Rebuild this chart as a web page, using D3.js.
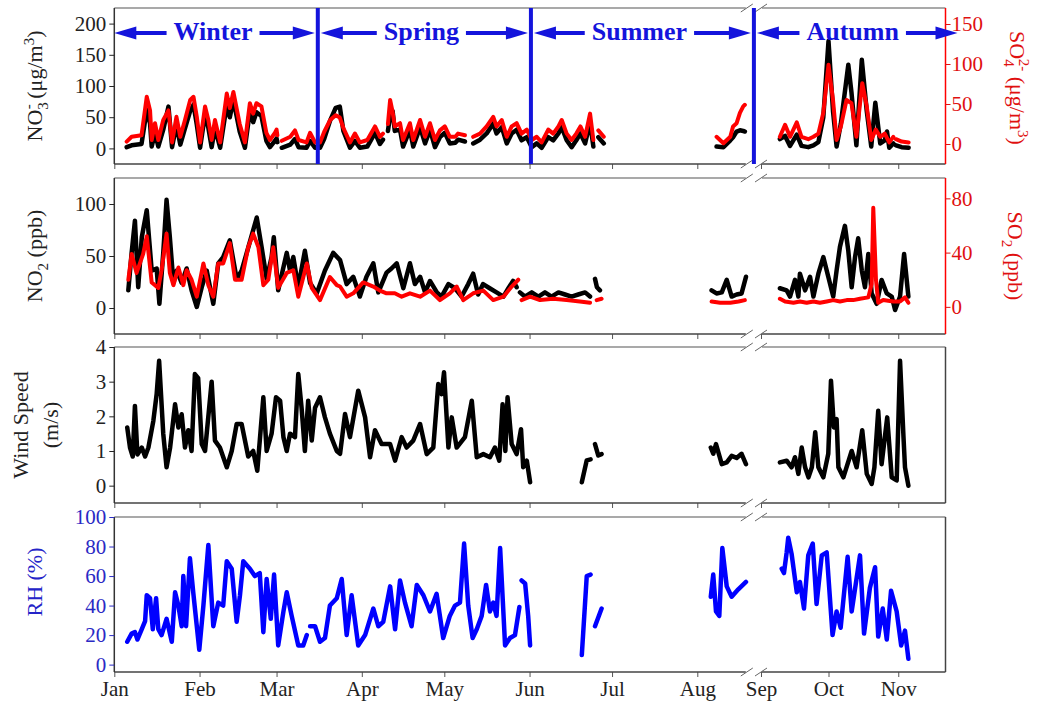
<!DOCTYPE html>
<html>
<head>
<meta charset="utf-8">
<script src="https://cdn.jsdelivr.net/npm/d3@7"></script>
<style>
  body { margin: 0; background: #fff; }
  svg text { font-family: "Liberation Serif", "Times New Roman", serif; }
</style>
</head>
<body>
<svg id="chart" width="1037" height="706"></svg>
<script>
// Each record: [day of year (0 = 1 Jan), value]; a null value marks a gap in the record.

// Particulate nitrate NO3- (µg/m3), left axis of the top panel
const no3 = [
  [4.5,2],[6.3,5],[9.9,7],[11.8,62],[13,40],[13.6,3],[14.8,25],[16,3],[17.8,30],[19.7,67],[21,2],
  [22.6,38],[24,6],[25.7,32],[27.6,60],[28.8,70],[30,38],[31.2,1],[33,55],[34.2,33],[35.4,2],
  [36.6,33],[38.5,1],[40.9,70],[42,50],[43.3,78],[45.6,27],[47.5,1],[49.3,60],[50.5,42],[51.7,58],
  [53.5,52],[55.3,12],[56.6,2],[58.4,12],[59,16],[59.3,10],[60,null],[60.9,1],[64,6],[65.7,15],
  [67,2],[69.9,1],[71.2,12],[73,1],[74.8,1],[76.3,15],[78.5,45],[80.5,65],[82,67],[83.3,28],
  [85.7,1],[87.5,12],[89.3,1],[92,3],[94.8,25],[96.6,7],[97.7,14],[98.5,null],[99.5,28],[100.3,52],
  [101.2,60],[102,28],[103.9,30],[105,3],[107.5,30],[108.7,3],[111.2,34],[113,8],[114.8,30],
  [116.6,2],[118.4,18],[120.2,25],[122,8],[124,9],[125,14],[127.5,11],[129,null],[130.5,8],[133,14],
  [135.4,24],[137.8,40],[139,24],[140.9,34],[142.7,8],[144.5,24],[146.3,30],[148.1,13],[150,18],
  [151.8,2],[153.6,8],[155.4,1],[157.8,18],[159.6,13],[161.5,24],[162.7,34],[164.5,13],[166.3,2],
  [168,13],[169.5,24],[171.2,8],[173,42],[174.2,3],[175,null],[176,18],[178,8],[200,null],
  [219,3],[221.5,2],[224,13],[225,18],[226.3,27],[227.5,29],[228.7,28],[229.3,27],[240,null],
  [251.4,15],[253.7,20],[255.9,4],[258.9,22],[261,4],[264,2],[266.3,5],[268.5,10],[270.7,50],
  [273,172],[275,60],[276.6,3],[278.5,40],[281.8,134],[283.2,90],[285.4,5],[287.8,142],[290,60],
  [292,3],[293.8,73],[296,8],[298,13],[299,27],[300,1],[301.8,8],[302.4,null],[303,5],[305.5,2],[308.6,1]
];

// Particulate sulfate SO4 2- (µg/m3), right axis of the top panel
const so4 = [
  [4.5,3],[6.3,9],[9.9,11],[11.8,59],[13,42],[13.6,5],[14.8,26],[16,5],[17.8,30],[19.7,42],[21,2],
  [22.6,34],[24,9],[25.7,30],[27.6,55],[28.8,59],[30,34],[31.2,2],[33,47],[34.2,30],[35.4,5],
  [36.6,30],[38.5,2],[40.9,63],[42,45],[43.3,65],[45.6,25],[47.5,2],[49.3,51],[50.5,38],[51.7,51],
  [53.5,47],[55.3,14],[56.6,5],[58.4,14],[59,18],[59.3,11],[60,null],[60.9,4],[64,9],[65.7,17],
  [67,5],[69.9,2],[71.2,14],[73,2],[74.8,2],[76.3,15],[78.5,30],[80.5,36],[82,33],[83.3,20],
  [85.7,2],[87.5,13],[89.3,2],[92,5],[94.8,22],[96.6,9],[97.7,13],[98.5,null],[99.5,25],[100.3,55],
  [101.2,40],[102,22],[103.9,26],[105,5],[107.5,26],[108.7,5],[111.2,30],[113,9],[114.8,26],
  [116.6,5],[118.4,17],[120.2,22],[122,9],[124,9],[125,13],[127.5,11],[129,null],[130.5,9],[133,13],
  [135.4,22],[137.8,34],[139,22],[140.9,30],[142.7,9],[144.5,22],[146.3,26],[148.1,13],[150,18],
  [151.8,5],[153.6,9],[155.4,2],[157.8,18],[159.6,13],[161.5,22],[162.7,30],[164.5,13],[166.3,5],
  [168,13],[169.5,22],[171.2,9],[173,38],[174.2,5],[175,null],[176,17],[178,9],[200,null],
  [219,9],[221.5,1],[224,9],[225,22],[226.3,26],[227.5,39],[228.7,47],[229.3,49],[240,null],
  [251.4,9],[253.7,24],[255.9,9],[258.9,27],[261,9],[264,6],[266.3,9],[268.5,13],[270.7,39],
  [273,99],[275,55],[276.6,5],[278.5,22],[281,55],[283.2,51],[285.4,9],[288,76],[290,47],[292,5],
  [294,18],[296,9],[298,13],[300,2],[301.8,9],[302.4,null],[303,6],[305.5,3],[308.6,2]
];

// Nitrogen dioxide NO2 (ppb), left axis of the second panel
const no2 = [
  [5.1,17],[6.3,53],[7.5,84],[8.7,20],[10,68],[11.8,94],[13.6,36],[15.4,38],[16.4,4],[17.8,53],
  [19,104],[20.2,68],[21.5,24],[22.7,36],[24.5,24],[26.3,38],[28.1,17],[30,1],[31.8,20],[33.6,36],
  [36,4],[37.8,43],[39.6,49],[42,65],[44.5,28],[46.3,36],[48.7,58],[51.8,87],[53.6,58],[55.4,28],
  [57.2,49],[58,68],[59.6,17],[62.7,53],[63.9,36],[65.1,49],[66.9,20],[69.3,55],[71.2,24],[73.6,14],
  [76.6,36],[79.6,53],[82.1,46],[84.5,23],[86.9,30],[89.3,11],[91.7,30],[94.2,43],[96,15],[99,34],
  [100.8,38],[102.7,43],[105.1,19],[107.5,43],[109.3,23],[111.2,30],[113,15],[114.8,26],[117.3,15],
  [119,11],[121.5,23],[123.9,19],[126.3,11],[128.7,23],[130.5,33],[132.3,13],[134.1,23],[136.5,19],
  [139,15],[141.5,11],[143.3,19],[145,26],[146.3,20],[147,null],[147.5,15],[149.3,11],[151.8,15],
  [154.2,11],[156.6,15],[159,11],[161.5,15],[163.9,13],[166.3,11],[168.7,13],[171.2,15],[173,11],
  [174,null],[174.8,28],[175.5,20],[176.6,17],[200,null],
  [217.2,17],[219,14],[220.9,15],[222.7,27],[224.5,11],[226.3,13],[228.1,14],[229.7,30],[240,null],
  [251.4,19],[254.4,17],[255.9,11],[258.1,27],[259.6,11],[260.3,33],[262.6,17],[264.8,30],[266.3,11],
  [268.5,33],[270.7,49],[272.9,30],[275.1,11],[276.6,36],[278.1,59],[280.3,79],[281.8,55],[283.3,20],
  [284.8,49],[286.2,67],[287.8,36],[289.2,20],[290.7,52],[292.2,14],[294.4,4],[296.6,27],[298.9,14],
  [301.1,11],[302.6,-2],[304.8,11],[306.6,52],[308.5,11]
];

// Sulfur dioxide SO2 (ppb), right axis of the second panel
const so2 = [
  [5.1,20],[6.3,39],[8.1,25],[10.5,39],[11.8,52],[13.6,18],[16,14],[17.2,27],[19,54],[20.2,25],
  [21.5,16],[23.3,29],[25.1,16],[26.3,27],[28.1,20],[30,7.5],[32.4,32],[34.2,16],[36,7.5],[37.8,32],
  [39.6,32],[42,47],[43.9,20],[46.3,20],[48.7,44],[50.5,54],[52.4,44],[54.2,16],[56,20],[57.8,44],
  [59.6,14],[62.7,25],[65.1,27],[66.9,7.5],[70,32],[71.8,14],[74.8,5],[78.4,22],[80.9,16],[82.1,15],
  [84.5,7.5],[86.9,10],[90.5,18],[94.2,15],[96.6,12],[99,10],[102,10],[104.5,7.5],[107.5,10],
  [111.2,7.5],[114.8,12],[118.4,5],[122,10],[124.5,15],[126.9,5],[130.5,10],[134.2,12],[137.8,5],
  [141.5,7.5],[144.5,15],[146.9,20],[147.5,null],[148.1,5],[151.2,7.5],[154.8,5],[159.6,6],[164.5,5],
  [169.3,4],[173,3],[174,null],[175.4,5],[177.2,6],[200,null],
  [217.2,4],[220.3,3],[224,3],[227,4],[229.3,5],[240,null],
  [251.4,6],[253.7,4],[257.4,3],[260.3,4],[263.3,3],[266.3,4],[269.2,3],[272.2,4],[275.1,5],[278.1,4],
  [281.1,5],[284,5],[287,6],[290.7,7],[292.2,17],[292.9,73],[294.1,20],[295.1,3],[297.3,5],[301.8,4],
  [304.8,4],[307,7],[308.5,3]
];

// Wind speed (m/s)
const wind = [
  [4.7,1.68],[5.7,1.1],[6.7,0.84],[7.5,2.3],[8.4,0.9],[10,1.1],[11.2,0.84],[12.4,1.1],[14.2,1.87],
  [15.4,2.64],[16.3,3.6],[17.8,1.5],[19,0.53],[20.3,1.1],[22.1,2.35],[23.3,1.68],[24.5,2.06],[25.7,1.1],
  [26.9,1.6],[28.1,1.0],[29.3,3.22],[30.5,3.1],[31.8,1.2],[33,1.0],[35.4,3.0],[36.6,1.3],[38.4,1.1],
  [40.9,0.53],[42.7,1.0],[44.5,1.78],[46.3,1.78],[48.7,0.84],[50.5,1.0],[52,0.43],[54.2,2.55],[55.4,1.0],
  [57.2,1.5],[58.8,2.55],[60.3,2.45],[61.5,1.4],[62.7,1.0],[63.9,1.5],[65.7,1.4],[66.9,3.22],[68.1,2.25],
  [69.3,1.0],[70.5,2.45],[71.8,1.3],[73,2.25],[74.8,2.55],[76.6,1.97],[78.4,1.5],[80.9,1.0],[82.1,0.92],
  [83.9,2.07],[85.7,1.4],[88.7,2.74],[91.2,1.97],[93,0.82],[94.8,1.6],[97.2,1.2],[100.3,1.2],[102.1,0.72],
  [104.5,1.4],[106.3,1.1],[108.7,1.3],[111.2,1.78],[113.6,0.91],[116,1.1],[117.8,2.93],[119,2.64],
  [119.9,3.27],[121.5,1.1],[122.7,1.97],[124.5,1.1],[127.5,1.4],[130,2.45],[131.8,0.82],[134.2,0.91],
  [136.6,0.82],[138.4,1.1],[140,0.72],[141.2,2.35],[142.2,1.0],[143,2.55],[144.5,1.2],[146.3,0.91],
  [147.9,1.63],[148.7,0.53],[150,0.72],[151.2,0.1],[160,null],
  [170,0.1],[171.8,0.73],[173.2,0.76],[174,null],[174.8,1.2],[176,0.87],[177.2,0.91],[200,null],
  [216.9,1.1],[217.8,0.92],[218.8,1.2],[220.9,0.62],[222.7,0.67],[224.5,0.86],[226.3,0.8],[228.1,0.92],
  [229.7,0.62],[240,null],
  [251.4,0.67],[254.4,0.72],[256.6,0.53],[258.1,0.82],[259.6,0.34],[261.1,1.1],[262.6,0.53],[264.1,0.24],
  [265.6,0.53],[267.1,1.54],[268.5,0.53],[270.7,0.24],[272.9,0.92],[274.1,3.03],[275.4,1.68],[276.6,1.92],
  [277.4,0.53],[279.6,0.24],[283.3,1.0],[285.5,0.53],[288,1.6],[290,0.34],[292.2,0.05],[293.4,0.53],
  [295.1,2.16],[296.6,0.62],[299.1,1.97],[301.1,0.24],[303.3,0.15],[304.8,3.6],[306.3,1.44],[307,0.53],
  [308.5,0]
];

// Relative humidity (%)
const rh = [
  [4.7,15.5],[6.3,21],[7.5,22],[8.4,17],[10,24],[11.2,29.5],[11.8,47],[13,45],[14,24],[15.2,45],[16,24],
  [17.2,20],[19,31],[20.9,15.5],[22.1,49],[23.3,40],[24.5,26],[25.1,60],[26.1,26],[27.5,72],[28.7,49],
  [30.9,10],[32.4,40],[34.2,81],[36,26],[37.8,42],[39.6,40],[40.9,70],[42.7,65],[44.5,29],[45.7,47],
  [46.9,70],[49.3,65],[51.1,60],[52.9,62],[54.2,22],[55.4,58],[56.9,31],[58.1,61],[59.6,13],[61.5,36],
  [62.7,49],[64.5,33],[66.9,13],[68.7,13],[70,20],[70.6,null],[71.2,26],[73,26],[74.8,15.5],[76.6,18],
  [78.4,40],[80.9,45],[82.7,58],[84.5,20],[86.3,47],[88.7,13],[91.2,20],[94.2,38],[96,26],[97.8,29],
  [100.3,53],[102.1,24],[103.9,57],[105.7,42],[108.1,26],[110,54],[112.4,47],[114.8,36],[117.2,48],
  [119.6,18],[122,33],[123.9,40],[125.7,42],[127.2,82],[128.7,40],[130.3,18],[131.8,24],[133.6,33],
  [135.2,54],[136.6,36],[137.8,42],[139,33],[140.3,79],[142.1,13],[143.9,18],[145.7,20],[147.3,39],
  [147.7,null],[148.1,57],[149.4,55],[150.5,33],[151.2,13],[160,null],
  [170,6.5],[171.8,60],[173.2,61],[174,null],[174.8,26],[177.2,38],[200,null],
  [216.9,46],[217.8,61],[218.8,36],[220,33],[221.1,79],[222.7,53],[224.5,46],[226.9,51],[229.7,56],[240,null],
  [252.2,65],[253.2,62],[254.4,76],[255.1,86],[256.6,75],[258.9,49],[260.3,56],[262.1,38],[264,74],
  [266,82],[267.7,41],[270,74],[272.2,76],[274.8,20],[276.6,36],[278.4,25],[281.5,73],[283.3,36],
  [287,74],[288.8,21],[291.4,52],[293.7,66],[295.1,19],[297.1,38],[298.9,17],[300.8,50],[303.3,36],
  [305.3,13],[307,23],[308.5,4]
];

// Season names and the day on which each of the first two seasons ends
const seasons = ["Winter", "Spring", "Summer", "Autumn"];
const seasonEnds = [74, 151.5];

// Tick values
const no3Ticks = [0, 50, 100, 150, 200];
const so4Ticks = [0, 50, 100, 150];
const no2Ticks = [0, 50, 100];
const so2Ticks = [0, 40, 80];
const windTicks = [0, 1, 2, 3, 4];
const rhTicks = [0, 20, 40, 60, 80, 100];

// Time axis: Jan 1 to Aug 19, a break, then Sep 1 to late November
const t0 = Date.UTC(2014, 0, 1);
const dayToDate = d => new Date(t0 + d * 864e5);
const breakFrom = 230, breakTo = 243, lastDay = 325;

const X0 = 114.3, XB1 = 746.8, XB2 = 761, X1 = 945.5;
const x = d3.scaleUtc()
  .domain([dayToDate(0), dayToDate(breakFrom), dayToDate(breakTo), dayToDate(lastDay)])
  .range([X0, XB1, XB2, X1]);
const monthTicks = d3.utcMonth.range(dayToDate(0), dayToDate(306));

const svg = d3.select("#chart");
const RED = "#ff0000", BLUE = "#0000ff", SEASON = "#1414dc";
const intFmt = d3.format("d");

const panels = [
  { top: 8,   bottom: 164 },
  { top: 178, bottom: 334 },
  { top: 347, bottom: 503 },
  { top: 517, bottom: 672 }
];

const yNo3 = d3.scaleLinear().domain([-25, 225]).range([panels[0].bottom, panels[0].top]);
const ySo4 = d3.scaleLinear().domain([-25, 170]).range([panels[0].bottom, panels[0].top]);
const yNo2 = d3.scaleLinear().domain([-25, 125]).range([panels[1].bottom, panels[1].top]);
const ySo2 = d3.scaleLinear().domain([-20, 95]).range([panels[1].bottom, panels[1].top]);
const yWind = d3.scaleLinear().domain([-0.5, 4]).range([panels[2].bottom, panels[2].top]);
const yRh = d3.scaleLinear().domain([-5, 100]).range([panels[3].bottom, panels[3].top]);

function drawSeries(data, y, color, width) {
  const line = d3.line()
    .defined(d => d[1] !== null)
    .x(d => x(dayToDate(d[0])))
    .y(d => y(d[1]));
  svg.append("path")
    .datum(data)
    .attr("d", line)
    .attr("fill", "none")
    .attr("stroke", color)
    .attr("stroke-width", width)
    .attr("stroke-linejoin", "round")
    .attr("stroke-linecap", "round");
}

function styleAxis(g, color, size) {
  g.select(".domain").remove();
  g.selectAll(".tick line").attr("stroke", color);
  g.selectAll(".tick text")
    .attr("fill", color)
    .style("font-size", size + "px")
    .style("font-family", "'Liberation Serif', 'Times New Roman', serif");
}

function frame(p, rightColor, isLast) {
  const g = svg.append("g");
  // bottom time axis with outward ticks
  const ax = g.append("g")
    .attr("transform", `translate(0,${p.bottom})`)
    .call(d3.axisBottom(x).tickValues(monthTicks).tickSize(5).tickPadding(4)
      .tickFormat(isLast ? d3.utcFormat("%b") : ""));
  styleAxis(ax, "#222", 21);
  ax.selectAll(".tick line").attr("stroke", "#555");
  // broken top and bottom edges
  [[p.top, "#8c8c8c"], [p.bottom, "#444"]].forEach(([yy, c]) => {
    g.append("line").attr("x1", X0).attr("x2", XB1 - 1).attr("y1", yy).attr("y2", yy)
      .attr("stroke", c).attr("stroke-width", 1.5);
    g.append("line").attr("x1", XB2 + 1).attr("x2", X1).attr("y1", yy).attr("y2", yy)
      .attr("stroke", c).attr("stroke-width", 1.5);
    [XB1, XB2].forEach(xb => {
      g.append("line")
        .attr("x1", xb - 6).attr("y1", yy + 4).attr("x2", xb + 6).attr("y2", yy - 4)
        .attr("stroke", "#666").attr("stroke-width", 1);
    });
  });
  g.append("line").attr("x1", X0).attr("x2", X0).attr("y1", p.top).attr("y2", p.bottom)
    .attr("stroke", "#333").attr("stroke-width", 1.5);
  g.append("line").attr("x1", X1).attr("x2", X1).attr("y1", p.top).attr("y2", p.bottom)
    .attr("stroke", rightColor).attr("stroke-width", 1.5);
}

function leftAxis(y, ticks, color) {
  const g = svg.append("g").attr("transform", `translate(${X0},0)`)
    .call(d3.axisLeft(y).tickValues(ticks).tickFormat(intFmt).tickSize(5).tickPadding(3));
  styleAxis(g, color, 21);
}
function rightAxis(y, ticks, color) {
  const g = svg.append("g").attr("transform", `translate(${X1},0)`)
    .call(d3.axisRight(y).tickValues(ticks).tickFormat(intFmt).tickSize(5).tickPadding(1));
  styleAxis(g, color, 21);
}

// Frames and axes
frame(panels[0], RED, false);
frame(panels[1], RED, false);
frame(panels[2], "#444", false);
frame(panels[3], "#444", true);

leftAxis(yNo3, no3Ticks, "#222");
rightAxis(ySo4, so4Ticks, "#e01010");
leftAxis(yNo2, no2Ticks, "#222");
rightAxis(ySo2, so2Ticks, "#e01010");
leftAxis(yWind, windTicks, "#222");
leftAxis(yRh, rhTicks, "#2a2ac4");

// Series
drawSeries(no3, yNo3, "#000", 4.5);
drawSeries(so4, ySo4, RED, 4);
drawSeries(no2, yNo2, "#000", 4.5);
drawSeries(so2, ySo2, RED, 4);
drawSeries(wind, yWind, "#000", 4.5);
drawSeries(rh, yRh, BLUE, 4.5);

// Axis titles
function title(cx, cy, angle, color, parts) {
  const t = svg.append("text")
    .attr("transform", `translate(${cx},${cy}) rotate(${angle})`)
    .attr("text-anchor", "middle")
    .attr("fill", color)
    .style("font-size", "22px");
  parts.forEach(p => {
    const s = t.append("tspan").text(p.t);
    if (p.dx) s.attr("dx", p.dx);
    if (p.dy) s.attr("dy", p.dy);
    if (p.small) s.style("font-size", "15px");
  });
  return t;
}

title(42, 86, -90, "#222", [
  { t: "NO" }, { t: "3", dy: 6, small: true }, { t: "-", dx: -7, dy: -15, small: true },
  { t: " (μg/m", dy: 9 }, { t: "3", dy: -8, small: true }, { t: ")", dy: 8 }
]);
title(42, 256, -90, "#222", [
  { t: "NO" }, { t: "2", dy: 6, small: true }, { t: " (ppb)", dy: -6 }
]);
title(28, 425, -90, "#222", [{ t: "Wind Speed" }]);
title(58, 425, -90, "#222", [{ t: "(m/s)" }]);
title(42, 582, -90, "#2424c8", [{ t: "RH (%)" }]);
title(1010, 88, 90, "#e01010", [
  { t: "SO" }, { t: "4", dy: 6, small: true }, { t: "2-", dx: -8, dy: -15, small: true },
  { t: " (μg/m", dy: 9 }, { t: "3", dy: -8, small: true }, { t: ")", dy: 8 }
]);
title(1008, 256, 90, "#e01010", [
  { t: "SO" }, { t: "2", dy: 6, small: true }, { t: " (ppb)", dy: -6 }
]);

// Season dividers and labelled arrows across the top panel
const edges = [X0, x(dayToDate(seasonEnds[0])), x(dayToDate(seasonEnds[1])), (XB1 + XB2) / 2, X1 + 12];
const p0 = panels[0];
edges.slice(1, 4).forEach(ex => {
  svg.append("line").attr("x1", ex).attr("x2", ex).attr("y1", p0.top).attr("y2", p0.bottom)
    .attr("stroke", SEASON).attr("stroke-width", 4);
});

const arrowY = 33, headLen = 22, headHalf = 6.5;
seasons.forEach((name, i) => {
  const a = edges[i] + (i === 0 ? 0 : 3);
  const b = edges[i + 1] - (i === 3 ? 0 : 3);
  const cx = (edges[i] + edges[i + 1]) / 2 - 3;
  const txt = svg.append("text")
    .attr("x", cx).attr("y", 40)
    .attr("text-anchor", "middle")
    .attr("fill", SEASON)
    .style("font-size", "26px")
    .style("font-weight", "bold")
    .text(name);
  const w = txt.node().getComputedTextLength();
  svg.append("line")
    .attr("x1", a + headLen - 2).attr("x2", cx - w / 2 - 7)
    .attr("y1", arrowY).attr("y2", arrowY)
    .attr("stroke", SEASON).attr("stroke-width", 4);
  svg.append("line")
    .attr("x1", cx + w / 2 + 7).attr("x2", b - headLen + 2)
    .attr("y1", arrowY).attr("y2", arrowY)
    .attr("stroke", SEASON).attr("stroke-width", 4);
  svg.append("path")
    .attr("d", `M${a},${arrowY}L${a + headLen},${arrowY - headHalf}L${a + headLen},${arrowY + headHalf}Z`)
    .attr("fill", SEASON);
  svg.append("path")
    .attr("d", `M${b},${arrowY}L${b - headLen},${arrowY - headHalf}L${b - headLen},${arrowY + headHalf}Z`)
    .attr("fill", SEASON);
});
</script>
</body>
</html>
